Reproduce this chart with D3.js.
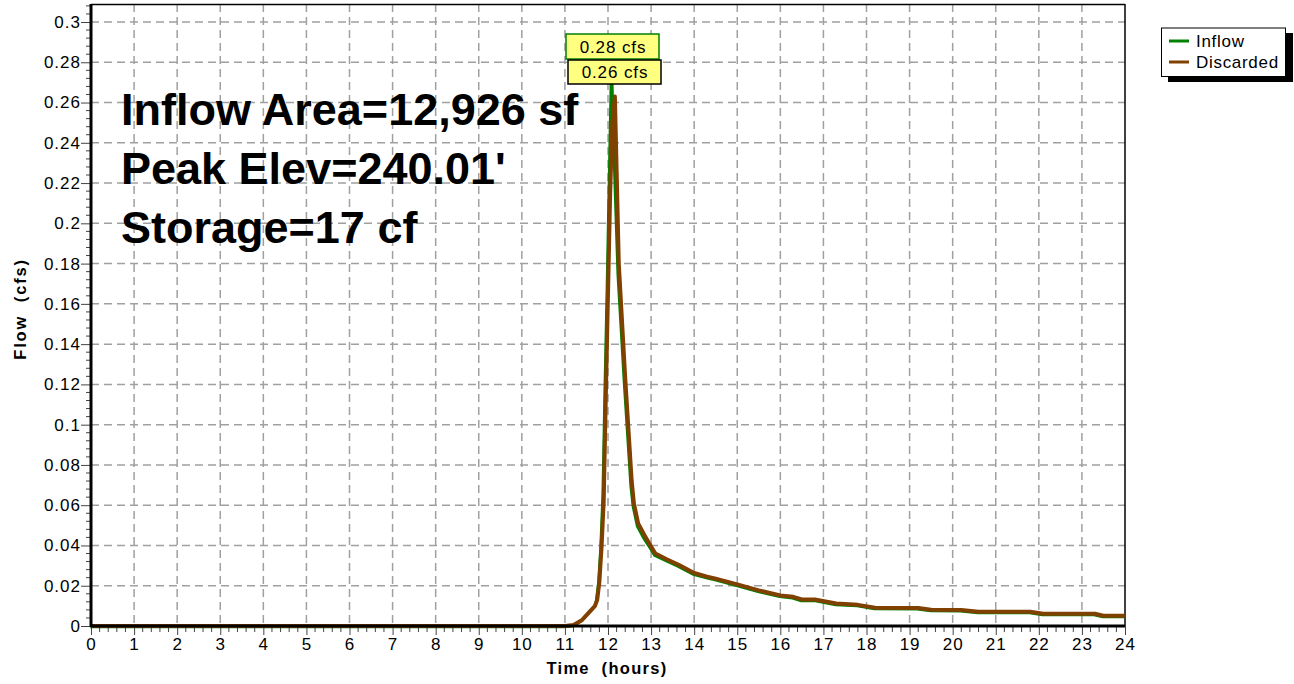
<!DOCTYPE html>
<html>
<head>
<meta charset="utf-8">
<script src="https://cdn.jsdelivr.net/npm/d3@7"></script>
<style>
html,body{margin:0;padding:0;background:#fff;}
svg{display:block;font-family:"Liberation Sans",Arial,sans-serif;}
</style>
</head>
<body>
<svg id="chart" width="1294" height="684"></svg>
<script>
// ---- data ----
const inflowTime = [0, 11.0, 11.2, 11.4, 11.55, 11.7, 11.75, 11.8, 11.85, 11.9, 11.95, 12.0, 12.05, 12.1, 12.15, 12.25, 12.4, 12.55, 12.6, 12.7, 12.85, 13.0, 13.1, 13.35, 13.65, 14.0, 14.3, 14.5, 15.0, 15.5, 16.0, 16.3, 16.5, 16.8, 17.3, 17.8, 18.2, 19.2, 19.5, 20.2, 20.6, 21.8, 22.1, 23.3, 23.5, 24];
const inflowValues = [0, 0, 0.0005, 0.003, 0.0065, 0.010, 0.013, 0.022, 0.039, 0.065, 0.12, 0.17, 0.225, 0.28, 0.24, 0.175, 0.12, 0.07, 0.06, 0.05, 0.044, 0.039, 0.0355, 0.033, 0.030, 0.026, 0.0243, 0.0233, 0.0205, 0.0175, 0.015, 0.0143, 0.013, 0.013, 0.011, 0.0104, 0.009, 0.0088, 0.008, 0.0078, 0.007, 0.007, 0.006, 0.006, 0.005, 0.005];
const discardedTime = [0, 11.0, 11.2, 11.4, 11.55, 11.7, 11.75, 11.8, 11.85, 11.9, 11.95, 12.0, 12.05, 12.1, 12.16, 12.25, 12.4, 12.55, 12.6, 12.7, 12.85, 13.0, 13.1, 13.35, 13.65, 14.0, 14.3, 14.5, 15.0, 15.5, 16.0, 16.3, 16.5, 16.8, 17.3, 17.8, 18.2, 19.2, 19.5, 20.2, 20.6, 21.8, 22.1, 23.3, 23.5, 24];
const discardedValues = [0, 0, 0.0005, 0.003, 0.0065, 0.010, 0.013, 0.022, 0.039, 0.062, 0.115, 0.165, 0.215, 0.25, 0.263, 0.18, 0.123, 0.072, 0.061, 0.051, 0.045, 0.0395, 0.036, 0.0333, 0.0303, 0.0263, 0.0245, 0.0235, 0.0207, 0.0177, 0.0152, 0.0145, 0.0132, 0.0132, 0.0112, 0.0105, 0.0091, 0.0089, 0.0081, 0.0079, 0.0071, 0.0071, 0.0061, 0.0061, 0.0051, 0.0051];
const xTicks = d3.range(0, 25, 1);
const yTicks = [0, 0.02, 0.04, 0.06, 0.08, 0.1, 0.12, 0.14, 0.16, 0.18, 0.2, 0.22, 0.24, 0.26, 0.28, 0.3];
const yTickLabels = ["0","0.02","0.04","0.06","0.08","0.1","0.12","0.14","0.16","0.18","0.2","0.22","0.24","0.26","0.28","0.3"];
const seriesNames = ["Inflow", "Discarded"];
const seriesColors = ["#008000", "#804000"];
const peakLabels = ["0.28 cfs", "0.26 cfs"];
const annotations = ["Inflow Area=12,926 sf", "Peak Elev=240.01'", "Storage=17 cf"];

// ---- layout ----
const svg = d3.select("#chart");
const L = 91, R = 1125, T = 4, B = 626;
const x = d3.scaleLinear().domain([0, 24]).range([L, R]);
const y = d3.scaleLinear().domain([0, 0.3]).range([B, 22]);

// grid
const grid = svg.append("g").attr("stroke", "#a0a0a0").attr("stroke-width", 1.5).attr("stroke-dasharray", "8,5");
xTicks.forEach(t => { if (t > 0 && t < 24) grid.append("line").attr("x1", x(t)).attr("x2", x(t)).attr("y1", T).attr("y2", B); });
yTicks.forEach(t => { if (t > 0) grid.append("line").attr("x1", L).attr("x2", R).attr("y1", y(t)).attr("y2", y(t)); });

// frame top/right
svg.append("line").attr("x1", L).attr("x2", R).attr("y1", T + 0.5).attr("y2", T + 0.5).attr("stroke", "#000").attr("stroke-width", 1.5);
svg.append("line").attr("x1", R).attr("x2", R).attr("y1", T).attr("y2", B).attr("stroke", "#000").attr("stroke-width", 1.5);

// annotations
svg.append("g").selectAll("text").data(annotations).join("text")
  .attr("x", 121).attr("y", (d, i) => 125 + i * 59)
  .attr("font-size", 45).attr("font-weight", "bold").attr("fill", "#000").text(d => d);

// lines
const line = d3.line().x(d => x(d[0])).y(d => y(d[1]));
const inflowData = inflowTime.map((t, i) => [t, inflowValues[i]]);
const discData = discardedTime.map((t, i) => [t, discardedValues[i]]);
svg.append("path").attr("d", line(inflowData)).attr("fill", "none").attr("stroke", seriesColors[0]).attr("stroke-width", 3).attr("transform", "translate(-0.8,0.8)");
svg.append("path").attr("d", line(discData)).attr("fill", "none").attr("stroke", seriesColors[1]).attr("stroke-width", 4).attr("stroke-linejoin", "round");

// axes
const yAxis = d3.axisLeft(y).tickValues(yTicks).tickFormat((d, i) => yTickLabels[i]).tickSize(10).tickPadding(0);
const gy = svg.append("g").attr("transform", `translate(${L},0)`).call(yAxis);
gy.select(".domain").remove();
gy.selectAll("text").attr("font-size", 17).attr("letter-spacing", "1px").attr("fill", "#000").attr("font-family", "Liberation Sans, Arial, sans-serif");
gy.selectAll(".tick line").attr("stroke", "#444");
const yMinor = d3.range(0, 0.3085, 0.004).filter(v => Math.abs(v / 0.02 - Math.round(v / 0.02)) > 1e-6);
svg.append("g").selectAll("line").data(yMinor).join("line")
  .attr("x1", L - 5).attr("x2", L).attr("y1", d => y(d)).attr("y2", d => y(d)).attr("stroke", "#444");

const xAxis = d3.axisBottom(x).tickValues(xTicks).tickFormat(d3.format("d")).tickSize(9).tickPadding(3);
const gx = svg.append("g").attr("transform", `translate(0,${B})`).call(xAxis);
gx.select(".domain").remove();
gx.selectAll("text").attr("font-size", 17).attr("letter-spacing", "1px").attr("fill", "#000").attr("font-family", "Liberation Sans, Arial, sans-serif");
gx.selectAll(".tick line").attr("stroke", "#444");
const xMinor = d3.range(0, 24.01, 0.2).filter(v => Math.abs(v - Math.round(v)) > 1e-6);
svg.append("g").selectAll("line").data(xMinor).join("line")
  .attr("x1", d => x(d)).attr("x2", d => x(d)).attr("y1", B).attr("y2", B + 6).attr("stroke", "#444");

// thick axis lines
svg.append("line").attr("x1", L).attr("x2", L).attr("y1", T).attr("y2", B + 1).attr("stroke", "#000").attr("stroke-width", 3);
svg.append("line").attr("x1", L).attr("x2", R).attr("y1", B).attr("y2", B).attr("stroke", "#000").attr("stroke-width", 3);

// axis titles
svg.append("text").attr("x", 607).attr("y", 674).attr("text-anchor", "middle").attr("font-size", 16.5).attr("letter-spacing", "1.3px").attr("font-weight", "bold").style("white-space", "pre").text("Time  (hours)");
svg.append("text").attr("transform", "translate(26,309) rotate(-90)").attr("text-anchor", "middle").attr("font-size", 16.5).attr("letter-spacing", "1.8px").attr("font-weight", "bold").style("white-space", "pre").text("Flow  (cfs)");

// peak labels
const boxes = [{x0: 566, y0: 34, w: 93, h: 25, stroke: seriesColors[0]}, {x0: 568, y0: 60, w: 93, h: 24, stroke: "#000"}];
peakLabels.forEach((lab, i) => {
  const b = boxes[i];
  svg.append("rect").attr("x", b.x0).attr("y", b.y0).attr("width", b.w).attr("height", b.h).attr("fill", "#ffff80").attr("stroke", b.stroke).attr("stroke-width", 1.5);
  svg.append("text").attr("x", b.x0 + b.w / 2 + 0.5).attr("y", b.y0 + b.h / 2 + 6).attr("text-anchor", "middle").attr("font-size", 17).attr("letter-spacing", "0.9px").text(lab);
});

// legend
const lg = svg.append("g");
lg.append("rect").attr("x", 1168).attr("y", 33).attr("width", 125).attr("height", 49).attr("fill", "#000");
lg.append("rect").attr("x", 1161.5).attr("y", 28).attr("width", 124).attr("height", 48.5).attr("fill", "#fff").attr("stroke", "#000").attr("stroke-width", 1);
seriesNames.forEach((n, i) => {
  const yy = 41 + i * 21;
  lg.append("line").attr("x1", 1169).attr("x2", 1189).attr("y1", yy).attr("y2", yy).attr("stroke", seriesColors[i]).attr("stroke-width", 3);
  lg.append("text").attr("x", 1196).attr("y", yy + 6).attr("font-size", 17).attr("letter-spacing", "0.7px").text(n);
});
</script>
</body>
</html>
